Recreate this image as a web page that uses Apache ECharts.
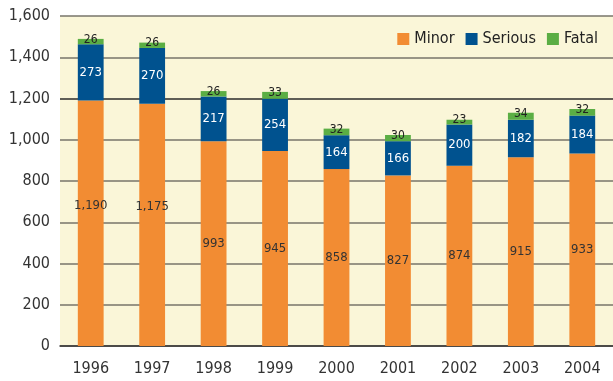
<!DOCTYPE html>
<html>
<head>
<meta charset="utf-8">
<style>
  html, body { margin: 0; padding: 0; background: #ffffff; }
  #chart { width: 613px; height: 381px; }
</style>
<script src="https://cdn.jsdelivr.net/npm/echarts@6/dist/echarts.min.js"></script>
</head>
<body>
<div id="chart"></div>
<script>
// Accidents by severity, 1996-2004
const years = ['1996', '1997', '1998', '1999', '2000', '2001', '2002', '2003', '2004'];
const minor = [1190, 1175, 993, 945, 858, 827, 874, 915, 933];
const serious = [273, 270, 217, 254, 164, 166, 200, 182, 184];
const fatal = [26, 26, 26, 33, 32, 30, 23, 34, 32];

const FONT = '"DejaVu Sans Condensed", "Noto Sans", sans-serif';
const fmt = v => v.toLocaleString('en-US');

// The two tallest minor labels sit a little higher so they clear the 600 gridline
const minorData = minor.map((v, i) => (
  v > 1100 ? { value: v, label: { offset: [0, -18] } } : v
));

// Gridline colours, one per tick from 0 up to 1,600 (the 1,200 line is drawn darker)
const gridColours = ['#77746a', '#77746a', '#77746a', '#77746a', '#77746a', '#77746a', '#2b2b2b', '#77746a', '#77746a'];

const chart = echarts.init(document.getElementById('chart'));
chart.setOption({
  animation: false,
  textStyle: { fontFamily: FONT },
  grid: {
    left: 60, right: 0, top: 16, bottom: 35,
    show: true, backgroundColor: '#faf6d8', borderWidth: 0
  },
  legend: {
    top: 26, right: 10,
    itemWidth: 12, itemHeight: 12, itemGap: 11,
    icon: 'rect',
    textStyle: { fontSize: 16, color: '#222', fontFamily: FONT },
    data: ['Minor', 'Serious', 'Fatal']
  },
  xAxis: {
    type: 'category',
    data: years,
    axisTick: { show: false },
    axisLine: { lineStyle: { color: '#333', width: 1.5 } },
    axisLabel: { fontSize: 16, color: '#333', margin: 15 }
  },
  yAxis: {
    type: 'value',
    min: 0, max: 1600, interval: 200,
    axisLine: { show: false },
    axisTick: { show: false },
    axisLabel: { fontSize: 16, color: '#333', margin: 10, formatter: v => fmt(v) },
    splitLine: { lineStyle: { color: gridColours, width: 1.5 } }
  },
  series: [
    {
      name: 'Minor', type: 'bar', stack: 'total', barWidth: '42%',
      data: minorData,
      itemStyle: { color: '#f28c33' },
      label: { show: true, position: 'inside', color: '#333', fontSize: 13, formatter: p => fmt(p.value) }
    },
    {
      name: 'Serious', type: 'bar', stack: 'total',
      data: serious,
      itemStyle: { color: '#00528f' },
      label: { show: true, position: 'inside', color: '#ffffff', fontSize: 13, formatter: p => fmt(p.value) }
    },
    {
      name: 'Fatal', type: 'bar', stack: 'total',
      data: fatal,
      itemStyle: { color: '#5bae44' },
      label: { show: true, position: 'inside', offset: [0, -2], color: '#222', fontSize: 12, formatter: p => fmt(p.value) }
    }
  ]
});
</script>
</body>
</html>
